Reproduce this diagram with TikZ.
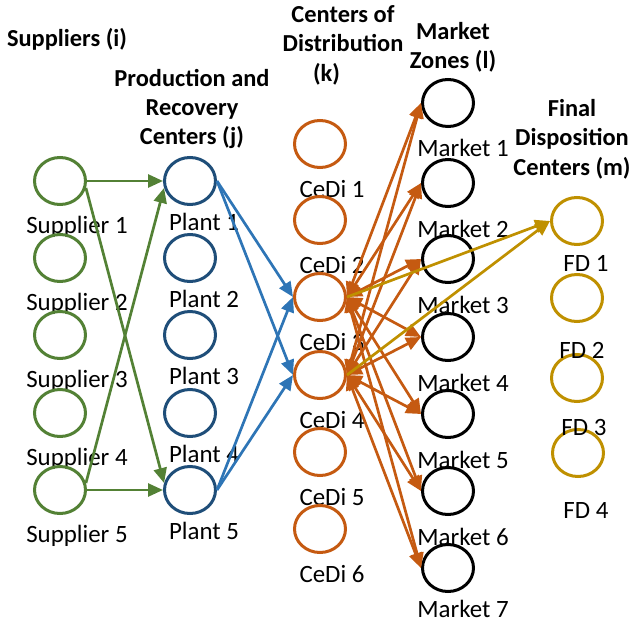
\documentclass[tikz,border=0pt]{standalone}
\usepackage{fontspec}
\setmainfont{Carlito}
\usetikzlibrary{shapes.geometric,arrows.meta}
\definecolor{supgreen}{HTML}{538135}
\definecolor{plantblue}{HTML}{1F4E79}
\definecolor{flowblue}{HTML}{2E75B6}
\definecolor{cediorange}{HTML}{C55A11}
\definecolor{fdgold}{HTML}{BF9000}
\begin{document}
\begin{tikzpicture}[x=1bp,y=-1bp,
  site/.style={ellipse,draw,line width=3bp,minimum width=51bp,minimum height=47bp,inner sep=0pt},
  lbl/.style={anchor=base,font=\fontsize{25}{29}\selectfont,inner sep=0pt},
  ttl/.style={align=center,font=\bfseries\fontsize{24.5}{29.5}\selectfont,inner sep=0pt},
  flow/.style={line width=2.7bp,-{Triangle[length=15bp,width=13bp]}},
  both/.style={line width=2.7bp,{Triangle[length=15bp,width=13bp]}-{Triangle[length=15bp,width=13bp]}}
]
\useasboundingbox (0,0) rectangle (634,625);

% column titles
\node[ttl] (tsup) at (67,39) {Suppliers (i)};
\node[ttl] (tprod) at (192,109) {Production and\\Recovery\\Centers (j)};
\node[ttl] (tcedi) at (343,45) {Centers of\\Distribution\\(k)\hspace*{33bp}};
\node[ttl] (tmkt) at (453,47) {Market\\Zones (l)};
\node[ttl] (tfd) at (572,139) {Final\\Disposition\\Centers (m)};

% suppliers
\foreach \i/\y in {1/181,2/258,3/335,4/413,5/490} {
  \node[site,draw=supgreen] (s\i) at (60,\y) {};
  \node[lbl] (sl\i) at (77,\y+52) {Supplier \i};
}
% production and recovery plants
\foreach \i/\y in {1/181,2/258,3/335,4/413,5/490} {
  \node[site,draw=plantblue] (p\i) at (190,\y) {};
  \node[lbl] (pl\i) at (204,\y+49) {Plant \i};
}
% distribution centers
\foreach \i/\y in {1/144,2/220,3/297,4/375,5/452,6/529} {
  \node[site,draw=cediorange] (c\i) at (320,\y) {};
  \node[lbl] (cl\i) at (332,\y+53) {CeDi \i};
}
% market zones
\foreach \i/\y in {1/103,2/183,3/259,4/337,5/414,6/491} {
  \node[site,draw=black] (m\i) at (448,\y) {};
  \node[lbl] (ml\i) at (463,\y+54) {Market \i};
}
\node[site,draw=black] (m7) at (448,568) {};
\node[lbl] (ml7) at (463,617) {Market 7};
% final disposition centers
\node[site,draw=fdgold] (f1) at (577,221) {};
\node[site,draw=fdgold] (f2) at (577,298) {};
\node[site,draw=fdgold] (f3) at (577,378) {};
\node[site,draw=fdgold] (f4) at (578,453) {};
\node[lbl] (fl1) at (586,271) {FD 1};
\node[lbl] (fl2) at (582,358) {FD 2};
\node[lbl] (fl3) at (584,435) {FD 3};
\node[lbl] (fl4) at (586,518) {FD 4};

% supply flows
\draw[flow,supgreen] (s1.east) -- (p1.west);
\draw[flow,supgreen] (s1.345) -- (p5.165);
\draw[flow,supgreen] (s5.15) -- (p1.195);
\draw[flow,supgreen] (s5.east) -- (p5.west);

% plants to distribution centers
\foreach \p in {1,5} \foreach \c in {3,4}
  \draw[flow,flowblue] (p\p.east) -- (c\c.west);

% forward and return flows with the markets
\foreach \c in {3,4} \foreach \m in {1,...,7}
  \draw[both,cediorange] (c\c.east) -- (m\m.west);

% flows to final disposition
\draw[flow,fdgold] (c3.east) -- (f1.west);
\draw[flow,fdgold] (c4.east) -- (f1.west);
\end{tikzpicture}
\end{document}
